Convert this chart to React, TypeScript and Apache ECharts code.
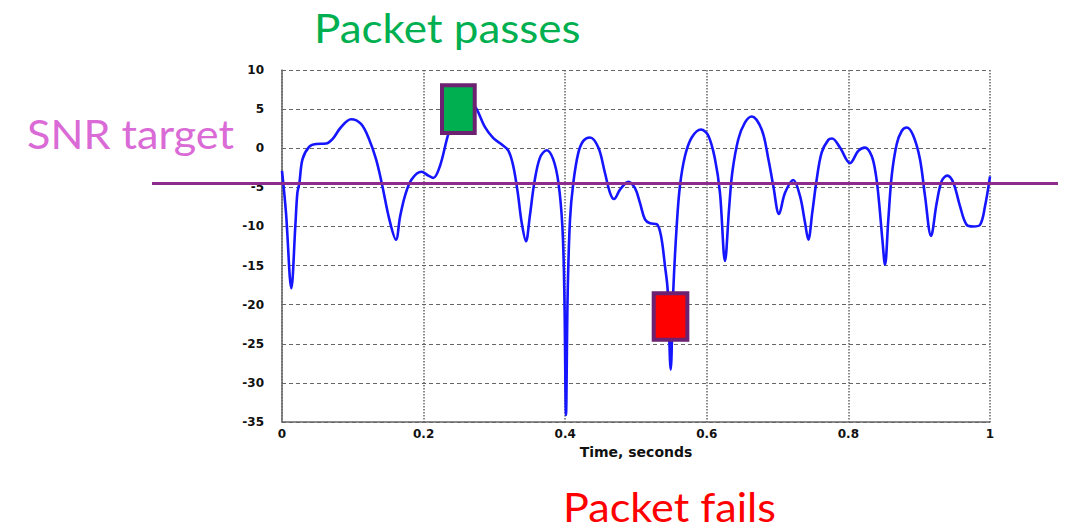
import React, { useEffect, useRef } from "react";
import * as echarts from "echarts";

// Time (s) and SNR (dB)
const timeS: number[] = [
  0, 0.0056, 0.0132, 0.0188, 0.0217, 0.0245, 0.029, 0.0386, 0.048, 0.062, 0.0716, 0.083, 0.0975,
  0.1116, 0.123, 0.1328, 0.141, 0.1516, 0.161, 0.1667, 0.1737, 0.183, 0.197, 0.2067, 0.2137,
  0.223, 0.2349, 0.248, 0.258, 0.267, 0.275, 0.2867, 0.2985, 0.31, 0.3197, 0.3267, 0.333,
  0.3385, 0.3446, 0.35, 0.3564, 0.3644, 0.3738, 0.383, 0.3904, 0.396, 0.3988, 0.4011, 0.4035,
  0.4068, 0.4115, 0.4185, 0.4256, 0.435, 0.4468, 0.456, 0.4633, 0.469, 0.4774, 0.489, 0.4986,
  0.5056, 0.5127, 0.5198, 0.5292, 0.5353, 0.541, 0.5447, 0.549, 0.5527, 0.5575, 0.5621, 0.5692,
  0.5787, 0.5918, 0.6022, 0.6116, 0.6186, 0.6257, 0.6314, 0.636, 0.6445, 0.654, 0.6634, 0.6775,
  0.687, 0.6939, 0.702, 0.7105, 0.7222, 0.7316, 0.7387, 0.7434, 0.749, 0.7552, 0.7622, 0.7716,
  0.777, 0.7881, 0.8023, 0.814, 0.8234, 0.8329, 0.839, 0.8432, 0.848, 0.8517, 0.8564, 0.8612,
  0.8682, 0.8753, 0.8824, 0.8917, 0.9011, 0.9082, 0.9167, 0.9247, 0.9318, 0.9397, 0.9482,
  0.9576, 0.9671, 0.9765, 0.9859, 0.993, 1.0,
];
const snrDb: number[] = [
  -2.9, -8.2, -17.9, -10, -5.7, -4.5, -1.4, 0.2, 0.55, 0.6, 1.2, 2.65, 3.7,
  3.1, 1.15, -1.4, -4.5, -9.1, -11.7, -8.8, -6.1, -4.0, -3.0, -3.5, -3.8,
  -2.3, 1.8, 5.0, 6.3, 5.9, 5.0, 2.7, 1.3, 0.5, -0.3, -2.3, -5.7,
  -9.5, -11.9, -8.7, -4.4, -1.2, -0.26, -1.4, -4.4, -10, -18.5, -34.1, -18.5,
  -9.1, -4.4, -0.6, 0.94, 1.37, 0.08, -3.1, -5.7, -6.5, -5.3, -4.3, -5.1,
  -7, -9.1, -9.6, -9.7, -11.2, -15.1, -18.1, -28.3, -18.1, -9.9, -4.8, -1.0,
  1.37, 2.4, 1.6, -1.4, -5.7, -14.4, -7.8, -3.1, 1.15, 3.3, 4.06, 2.4,
  -1.4, -4.8, -8.4, -5.7, -4.06, -6.1, -9.5, -11.7, -8.2, -4.0, -0.56, 1.07,
  1.24, 0.08, -1.9, -0.34, 0.08, -1.0, -3.5, -6.8, -11.7, -14.9, -9.1, -3.5,
  0.5, 2.2, 2.65, 1.6, -1.4, -6.1, -11.2, -7, -4.2, -3.5, -4.4,
  -7.4, -9.8, -10, -9.8, -7.4, -3.6,
];

const yTicks: number[] = [10, 5, 0, -5, -10, -15, -20, -25, -30, -35];
const xTicks: number[] = [0, 0.2, 0.4, 0.6, 0.8, 1];

const SNR_TARGET = -4.5;
// [tStart, tEnd, snrLow, snrHigh]
const passBox: number[] = [0.226, 0.2722, 1.94, 8.04];
const failBox: number[] = [0.525, 0.5725, -24.5, -18.53];

const TITLE_FONT = "Lato, 'Open Sans', sans-serif";

export default function App() {
  const ref = useRef<HTMLDivElement>(null);

  useEffect(() => {
    if (!ref.current) return;
    const chart = echarts.init(ref.current, null, { renderer: "svg" });
    const axisFont = "'DejaVu Sans', sans-serif";
    chart.setOption({
      animation: false,
      backgroundColor: "#ffffff",
      grid: { left: 282, right: 81, top: 70, bottom: 110 },
      xAxis: {
        type: "value",
        min: 0,
        max: 1,
        interval: 0.2,
        name: "Time, seconds",
        nameLocation: "middle",
        nameGap: 20,
        nameTextStyle: { fontFamily: axisFont, fontSize: 14, fontWeight: "bold", color: "#111" },
        axisLine: { show: true, onZero: false, lineStyle: { color: "#666", width: 1.5 } },
        axisTick: { show: false },
        axisLabel: {
          margin: 6,
          fontFamily: axisFont,
          fontSize: 12,
          fontWeight: "bold",
          color: "#111",
          formatter: (v: number) => (xTicks.includes(Number(v.toFixed(1))) ? String(Number(v.toFixed(1))) : ""),
        },
        splitLine: { show: true, lineStyle: { color: "#666", width: 1.5, type: [1.5, 1.5] } },
      },
      yAxis: {
        type: "value",
        min: yTicks[yTicks.length - 1],
        max: yTicks[0],
        interval: 5,
        axisLine: { show: true, onZero: false, lineStyle: { color: "#666", width: 1.5 } },
        axisTick: { show: false },
        axisLabel: {
          margin: 18,
          fontFamily: axisFont,
          fontSize: 12,
          fontWeight: "bold",
          color: "#111",
        },
        splitLine: { show: true, lineStyle: { color: "#666", width: 1, type: [4, 3] } },
      },
      series: [
        {
          type: "line",
          data: timeS.map((t, i) => [t, snrDb[i]]),
          showSymbol: false,
          smooth: 0.35,
          lineStyle: { color: "#1515ff", width: 2.6 },
          z: 3,
        },
      ],
    });

    const ySnr = chart.convertToPixel({ yAxisIndex: 0 }, SNR_TARGET) as number;
    const boxRect = (b: number[]) => {
      const p1 = chart.convertToPixel({ gridIndex: 0 }, [b[0], b[3]]) as number[];
      const p2 = chart.convertToPixel({ gridIndex: 0 }, [b[1], b[2]]) as number[];
      return { x: p1[0], y: p1[1], width: p2[0] - p1[0], height: p2[1] - p1[1] };
    };

    chart.setOption({
      graphic: [
        {
          type: "line",
          shape: { x1: 152, y1: ySnr, x2: 1058, y2: ySnr },
          style: { stroke: "#8e2c8e", lineWidth: 3 },
          z: 50,
        },
        {
          type: "rect",
          shape: boxRect(passBox),
          style: { fill: "#00b050", stroke: "#6c2270", lineWidth: 4 },
          z: 60,
        },
        {
          type: "rect",
          shape: boxRect(failBox),
          style: { fill: "#ff0000", stroke: "#6c2270", lineWidth: 4 },
          z: 60,
        },
        {
          type: "text",
          x: 314,
          y: 28,
          scaleX: 1.1,
          style: { text: "Packet passes", fill: "#00b050", font: `40px ${TITLE_FONT}`, verticalAlign: "middle" },
          z: 70,
        },
        {
          type: "text",
          x: 27,
          y: 134,
          scaleX: 1.08,
          style: { text: "SNR target", fill: "#da6bd6", font: `40px ${TITLE_FONT}`, verticalAlign: "middle" },
          z: 70,
        },
        {
          type: "text",
          x: 563,
          y: 507,
          scaleX: 1.08,
          style: { text: "Packet fails", fill: "#ff0000", font: `40px ${TITLE_FONT}`, verticalAlign: "middle" },
          z: 70,
        },
      ],
    });

    return () => chart.dispose();
  }, []);

  return <div ref={ref} style={{ width: 1071, height: 532, position: "absolute", left: 0, top: 0 }} />;
}
